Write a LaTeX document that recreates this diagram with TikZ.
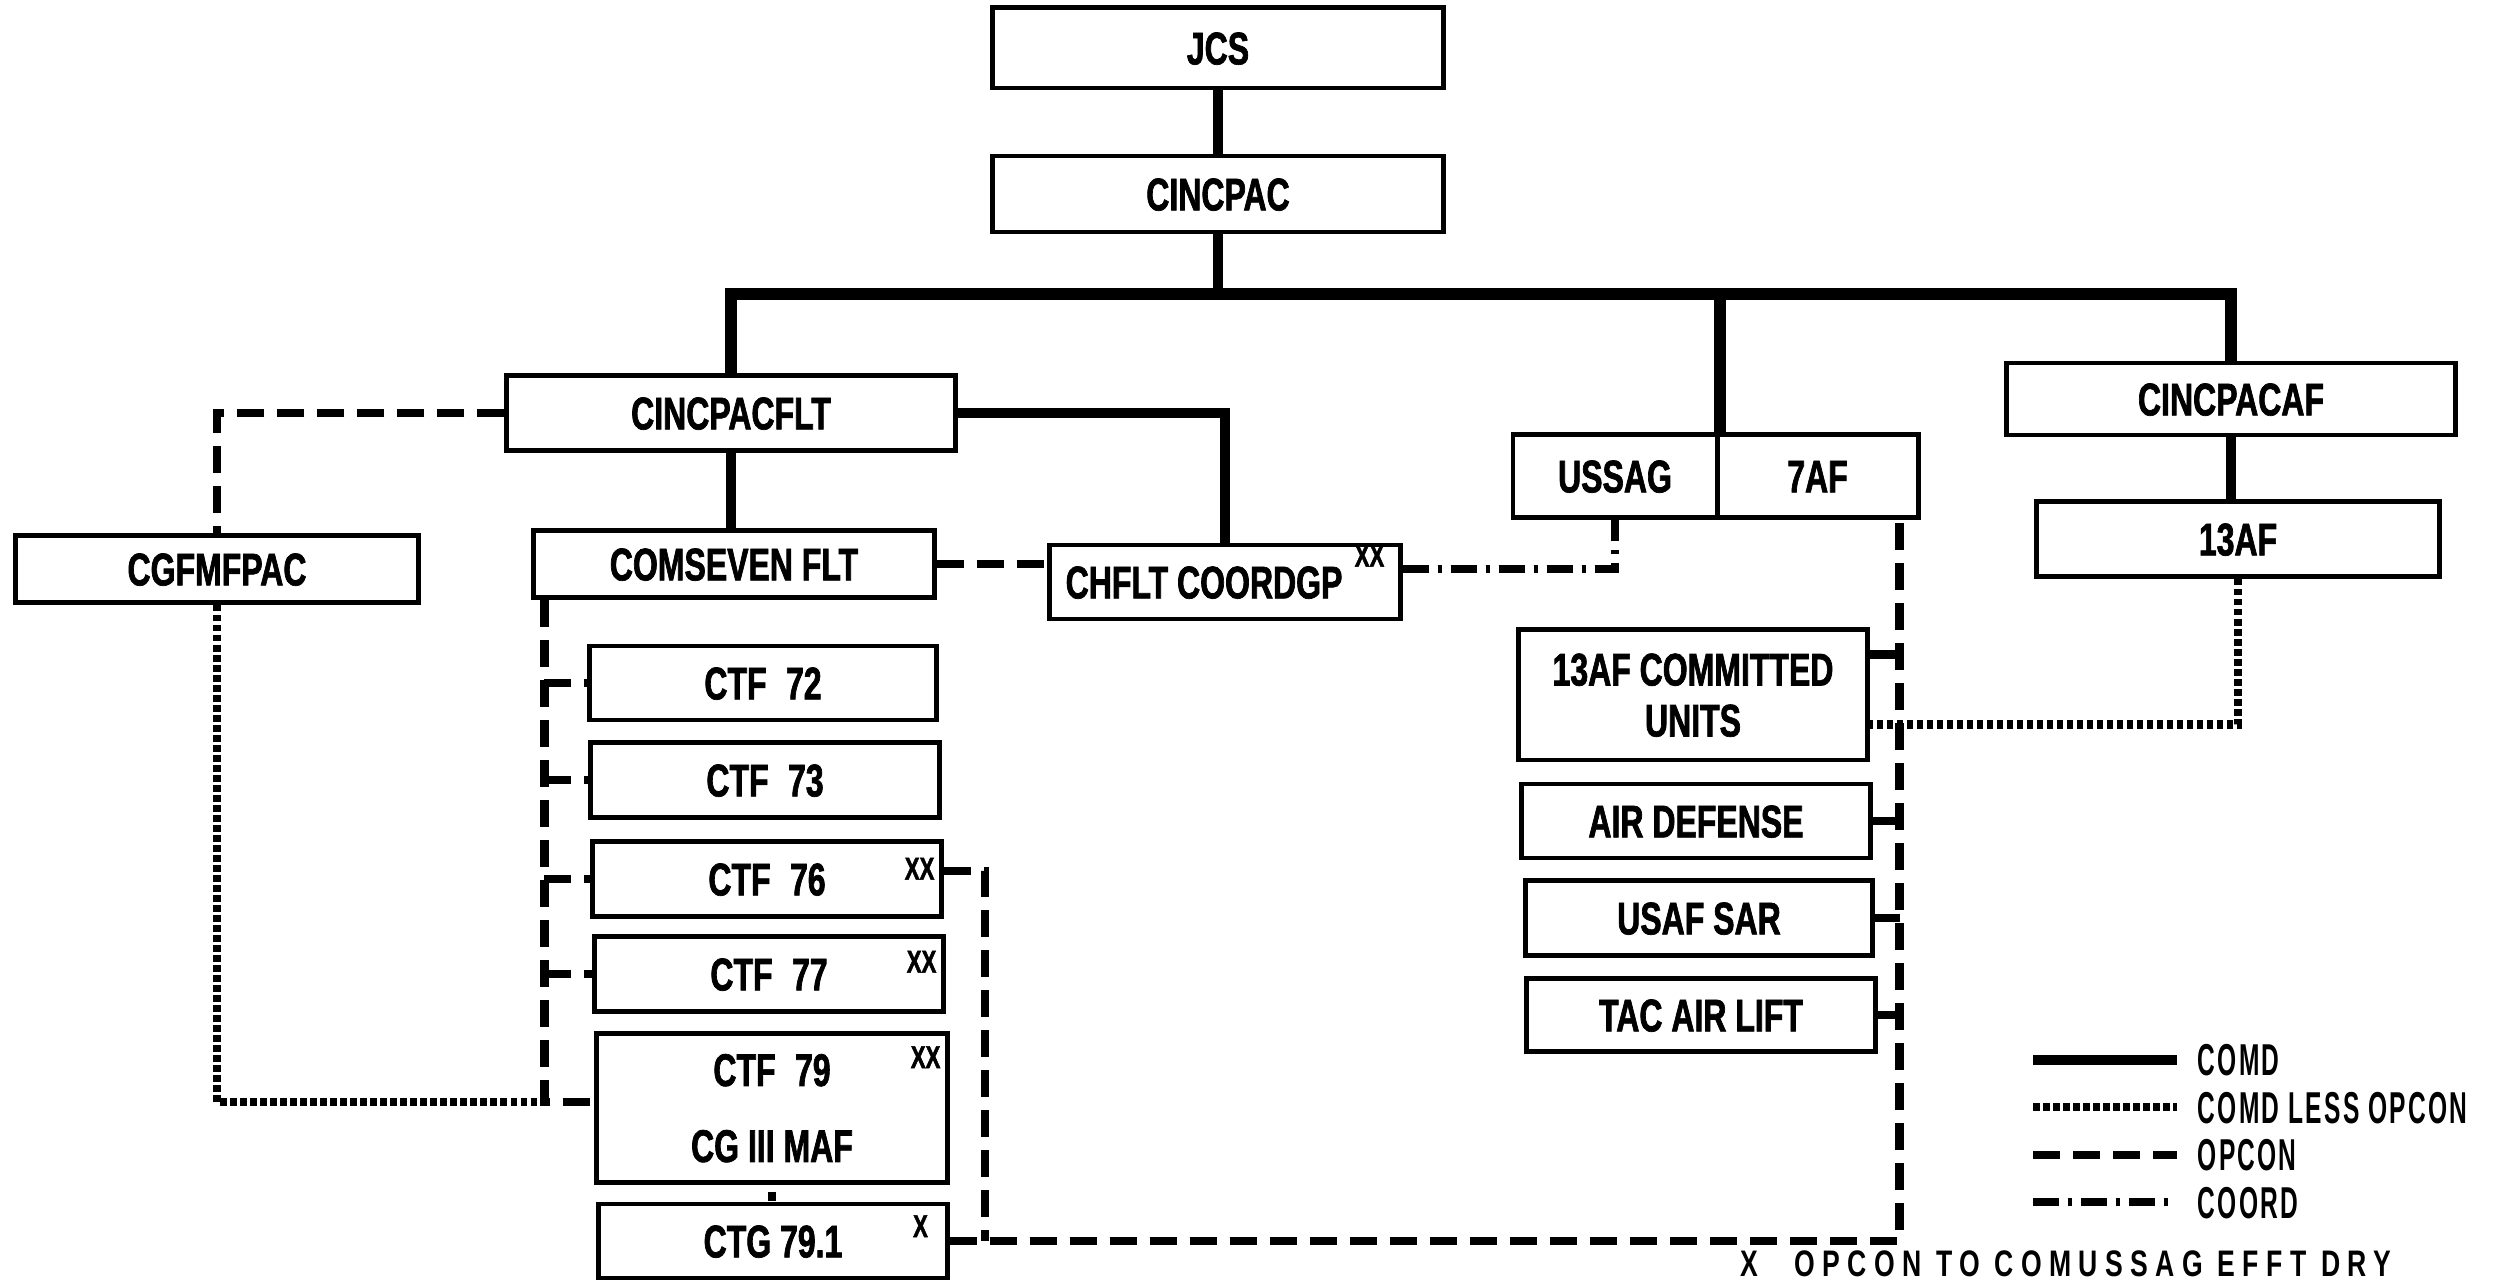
\documentclass[tikz,border=0pt]{standalone}
\usepackage{fontspec}
\newfontfamily\lblfont{Liberation Sans}[UprightFont=* Bold, FakeStretch=0.7, FakeBold=1.5]
\newfontfamily\legfont{Liberation Sans}[UprightFont=* Bold, FakeStretch=0.55, LetterSpace=5]
\newfontfamily\notefont{Liberation Sans}[UprightFont=* Bold, FakeStretch=0.72, LetterSpace=20]
\newcommand{\xxsz}{\fontsize{9}{10}\selectfont}
\usetikzlibrary{calc}
\tikzset{
  box/.style={draw, line width=1.4pt, rectangle, inner sep=0pt,
    font=\lblfont\fontsize{13}{14.5}\selectfont, text height=9.3pt, text depth=0pt},
  xx/.style={inner sep=0pt, font=\lblfont\xxsz, text height=6.5pt, text depth=0pt},
  comd/.style={line width=2.8pt},
  bar/.style={line width=3.4pt},
  cless/.style={line width=2.5pt, dash pattern=on 0.065cm off 0.035cm},
  opcon/.style={line width=2.4pt, dash pattern=on 0.27cm off 0.13cm},
  coord/.style={line width=2.2pt, dash pattern=on 0.26cm off 0.09cm on 0.04cm off 0.09cm},
  legtext/.style={inner sep=0pt, font=\legfont\fontsize{12.7}{14}\selectfont, text height=9.1pt, text depth=0pt},
  notetext/.style={inner sep=0pt, font=\notefont\fontsize{10.5}{12}\selectfont, text height=7.5pt, text depth=0pt},
}
\begin{document}
\begin{tikzpicture}[x=0.01cm, y=-0.01cm]
\useasboundingbox (0,0) rectangle (2500,1280);
\fill[white] (0,0) rectangle (2500,1280);
\clip (0,0) rectangle (2500,1280);

% boxes
\node[box, minimum width=4.50cm, minimum height=0.80cm] (jcs) at (1218,48) {JCS};
\node[box, minimum width=4.50cm, minimum height=0.76cm] (cincpac) at (1218,194) {CINCPAC};
\node[box, minimum width=4.48cm, minimum height=0.75cm] (cincpacflt) at (731,413) {CINCPACFLT};
\node[box, minimum width=4.02cm, minimum height=0.67cm] (cgfmfpac) at (217,569) {CGFMFPAC};
\node[box, minimum width=4.00cm, minimum height=0.67cm] (comseven) at (734,564) {COMSEVEN FLT};
\node[box, minimum width=3.50cm, minimum height=0.74cm] (chflt) at (1225,582) {CHFLT COORDGP\kern3.5pt\smash{\raisebox{9pt}{\xxsz XX}}};
\node[box, minimum width=2.04cm, minimum height=0.83cm] (ussag) at (1615,476) {USSAG};
\node[box, minimum width=2.01cm, minimum height=0.83cm] (af7) at (1817.5,476) {7AF};
\node[box, minimum width=4.48cm, minimum height=0.72cm] (cincpacaf) at (2231,399) {CINCPACAF};
\node[box, minimum width=4.03cm, minimum height=0.75cm] (af13) at (2238,539) {13AF};
\node[box, minimum width=3.49cm, minimum height=1.30cm, text height=, align=center] (cu) at (1693,695) {13AF COMMITTED\\UNITS};
\node[box, minimum width=3.48cm, minimum height=0.74cm] (airdef) at (1696,821) {AIR DEFENSE};
\node[box, minimum width=3.47cm, minimum height=0.75cm] (sar) at (1699,918) {USAF SAR};
\node[box, minimum width=3.48cm, minimum height=0.73cm] (tac) at (1701,1015) {TAC AIR LIFT};
\node[box, minimum width=3.47cm, minimum height=0.74cm] (ctf72) at (763,683) {CTF \kern3pt72};
\node[box, minimum width=3.48cm, minimum height=0.75cm] (ctf73) at (765,780) {CTF \kern3pt73};
\node[box, minimum width=3.49cm, minimum height=0.75cm] (ctf76) at (767,879) {CTF \kern3pt76};
\node[box, minimum width=3.49cm, minimum height=0.75cm] (ctf77) at (769,974) {CTF \kern3pt77};
\node[box, minimum width=3.51cm, minimum height=1.48cm, text height=, align=center] (ctf79) at (772,1108) {CTF \kern3pt79\\[7.1pt]CG III MAF};
\node[box, minimum width=3.48cm, minimum height=0.74cm] (ctg) at (773,1241) {CTG 79.1};

% superscript marks
\node[xx, anchor=north east] (xx76) at ($(ctf76.north east)+(-9,17)$) {XX};
\node[xx, anchor=north east] (xx77) at ($(ctf77.north east)+(-9,15)$) {XX};
\node[xx, anchor=north east] (xx79) at ($(ctf79.north east)+(-9,13)$) {XX};
\node[xx, anchor=north east] (x791) at ($(ctg.north east)+(-21,12)$) {X};

% COMD
\coordinate (barY) at (0,294);
\draw[comd] (jcs) -- (cincpac);
\draw[comd] (cincpac.south) -- (cincpac.south |- barY);
\draw[bar] (cincpacflt.north) |- (cincpacaf.north |- barY) -- (cincpacaf.north);
\draw[bar] (ussag.north east |- barY) -- (ussag.north east);
\draw[comd] (cincpacflt.east) -| (chflt.north);
\draw[comd] (cincpacflt.south) -- (cincpacflt.south |- comseven.north);
\draw[comd] (cincpacaf.south) -- (cincpacaf.south |- af13.north);

% OPCON
\draw[opcon] (cincpacflt.west) -| (cgfmfpac.north);
\draw[opcon] (comseven.east) -- (comseven.east -| chflt.west);
\coordinate (sp0) at ($(comseven.south west)+(13,0)$);
\coordinate (j79) at ($(sp0)+(0,502)$);
\draw[opcon] (sp0) -- (j79) -- (ctf79.west |- j79);
\draw[opcon] (sp0 |- ctf72.west) -- (ctf72.west);
\draw[opcon] (sp0 |- ctf73.west) -- (ctf73.west);
\draw[opcon] (sp0 |- ctf76.west) -- (ctf76.west);
\draw[opcon] (sp0 |- ctf77.west) -- (ctf77.west);
\draw[opcon, dash pattern=on 0.09cm off 0.14cm, dash phase=0.16cm] (ctf79.south) -- (ctf79.south |- ctg.north);
\coordinate (r76) at ($(ctf76.east)+(41,-8)$);
\draw[opcon] ($(ctf76.east)+(0,-8)$) -- (r76) -- (r76 |- ctg.east);
\coordinate (af7r) at ($(af7.south east)+(-21,0)$);
\draw[opcon] (ctg.east) -| (af7r);
\coordinate (cuS) at ($(cu.north east)+(0,27)$);
\draw[opcon] (cuS) -- (cuS -| af7r);
\draw[opcon] (airdef.east) -- (airdef.east -| af7r);
\draw[opcon] (sar.east) -- (sar.east -| af7r);
\draw[opcon] (tac.east) -- (tac.east -| af7r);

% COMD LESS OPCON
\draw[cless] (cgfmfpac.south) |- (j79);
\coordinate (cuT) at ($(cu.south east)+(0,-38)$);
\draw[cless] (af13.south) |- (cuT);

% COORD
\coordinate (chS) at ($(chflt.east)+(0,-13)$);
\draw[coord] (chS) -| (ussag.south);

% legend
\coordinate (la1) at (2033,1060); \coordinate (lb1) at (2177,1060);
\coordinate (la2) at (2033,1107); \coordinate (lb2) at (2177,1107);
\coordinate (la3) at (2033,1155); \coordinate (lb3) at (2177,1155);
\coordinate (la4) at (2033,1202); \coordinate (lb4) at (2177,1202);
\draw[comd] (la1) -- (lb1);
\draw[cless] (la2) -- (lb2);
\draw[opcon] (la3) -- (lb3);
\draw[coord] (la4) -- (lb4);
\node[legtext, anchor=west] (lt1) at (2197,1060) {COMD};
\node[legtext, anchor=west] (lt2) at (2197,1107) {COMD LESS OPCON};
\node[legtext, anchor=west] (lt3) at (2197,1155) {OPCON};
\node[legtext, anchor=west] (lt4) at (2197,1202) {COORD};

% footnote
\node[notetext, anchor=north west] (note) at (1740,1249) {X \kern6pt OPCON TO COMUSSAG EFFT DRY};
\end{tikzpicture}
\end{document}
